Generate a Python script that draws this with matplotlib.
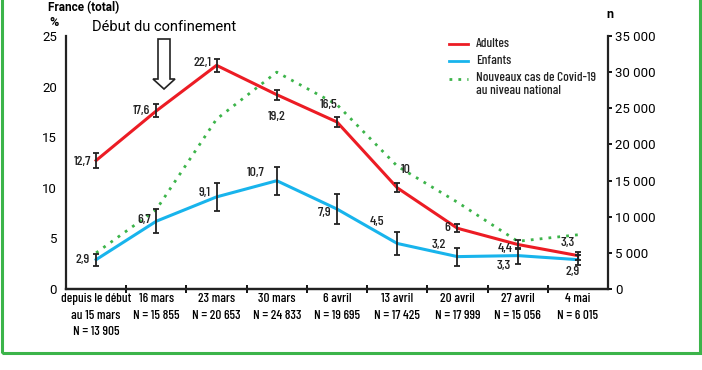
import matplotlib
matplotlib.use("Agg")
import matplotlib.pyplot as plt
from matplotlib.patches import Rectangle, FancyArrow
import numpy as np

# data
weeks = ["depuis le début\nau 15 mars\nN = 13 905", "16 mars\nN = 15 855", "23 mars\nN = 20 653",
         "30 mars\nN = 24 833", "6 avril\nN = 19 695", "13 avril\nN = 17 425",
         "20 avril\nN = 17 999", "27 avril\nN = 15 056", "4 mai\nN = 6 015"]
adultes = [12.7, 17.6, 22.1, 19.2, 16.5, 10, 6, 4.4, 3.3]
adultes_err = [0.7, 0.65, 0.65, 0.5, 0.5, 0.45, 0.4, 0.4, 0.4]
enfants = [2.9, 6.7, 9.1, 10.7, 7.9, 4.5, 3.2, 3.3, 2.9]
enfants_err = [0.6, 1.2, 1.35, 1.4, 1.5, 1.1, 0.9, 0.8, 0.5]
cas = [5000, 11000, 23500, 30000, 25500, 17000, 12000, 6600, 7500]

adultes_lbl = ["12,7", "17,6", "22,1", "19,2", "16,5", "10", "6", "4,4", "3,3"]
enfants_lbl = ["2,9", "6,7", "9,1", "10,7", "7,9", "4,5", "3,2", "3,3", "2,9"]

# label offsets in pixels (dx, dy, ha)
adultes_off = [(-5, -2, "right"), (-6, 0, "right"), (-5, 2, "right"), (0, -22, "center"),
               (-8, 17, "center"), (9, 18, "center"), (-7, 0, "right"), (-5, -5, "right"),
               (-3, 13, "right")]
enfants_off = [(-6, 0, "right"), (-5, 1, "right"), (-6, 4, "right"), (-12, 8, "right"),
               (-6, -4, "right"), (-13, 21, "right"), (-11, 12, "right"), (-7, -10, "right"),
               (-5, -12, "center")]

RED = "#ec1c24"
BLUE = "#18b4ec"
GREEN = "#3cb44a"
cond = ["Barlow Condensed", "Roboto Condensed", "DejaVu Sans"]
num = ["Roboto", "DejaVu Sans"]

fig = plt.figure(figsize=(7.02, 3.70), dpi=100)
ax = fig.add_axes([66/702, 1-289/370, (608-66)/702, (289-36)/370])
ax2 = ax.twinx()

x = np.arange(len(weeks))
ax2.plot(x, cas, color=GREEN, lw=2, ls=(0, (1, 2.2)), zorder=1)
ax.plot(x, adultes, color=RED, lw=2.2, zorder=3)
ax.plot(x, enfants, color=BLUE, lw=2.2, zorder=3)
ax.errorbar(x, adultes, yerr=adultes_err, fmt="none", ecolor="#222222", elinewidth=1.3, capsize=2.5, capthick=1.3, zorder=4)
ax.errorbar(x, enfants, yerr=enfants_err, fmt="none", ecolor="#222222", elinewidth=1.3, capsize=2.5, capthick=1.3, zorder=4)

for i in range(len(x)):
    dx, dy, ha = adultes_off[i]
    ax.annotate(adultes_lbl[i], (x[i], adultes[i]), xytext=(dx, dy), textcoords="offset pixels",
                ha=ha, va="center", fontsize=10, fontweight="medium", family=cond, color="#222222")
    dx, dy, ha = enfants_off[i]
    ax.annotate(enfants_lbl[i], (x[i], enfants[i]), xytext=(dx, dy), textcoords="offset pixels",
                ha=ha, va="center", fontsize=10, fontweight="medium", family=cond, color="#222222")

ax.set_zorder(ax2.get_zorder() + 1)
ax.patch.set_visible(False)

ax.set_xlim(-0.5, 8.5)
ax.set_ylim(0, 25)
ax2.set_ylim(0, 35000)
ax.set_yticks([0, 5, 10, 15, 20, 25])
ax2.set_yticks(range(0, 35001, 5000))
ax2.set_yticklabels(["0"] + ["%d 000" % (v // 1000) for v in range(5000, 35001, 5000)])

ax.set_xticks(np.arange(0.5, 8.5, 1))
ax.set_xticklabels([])
ax.tick_params(axis="x", direction="inout", length=6, width=1.3)
ax.set_xticks(x, minor=True)
ax.set_xticklabels(weeks, minor=True, family=cond, fontsize=9.5, fontweight="medium", linespacing=1.5)
ax.tick_params(axis="x", which="minor", length=0, pad=3)

ax.tick_params(axis="y", length=0, pad=6.5, labelsize=9.5)
for t in ax.get_yticklabels():
    t.set_family(num)
ax2.tick_params(axis="y", direction="out", length=3, width=1.3, pad=2, labelsize=9.5)
for t in ax2.get_yticklabels():
    t.set_family(num)

for a in (ax, ax2):
    a.spines["top"].set_visible(False)
    for s in ("left", "right", "bottom"):
        a.spines[s].set_linewidth(1.6)
        a.spines[s].set_color("#222222")
ax.spines["right"].set_visible(False)
ax2.spines["left"].set_visible(False)

# titles
fig.text(48/702, 1-1/370, "France (total)", fontsize=8.5, fontweight="bold", family=num, va="top")
fig.text(54/702, 1-22/370, "%", fontsize=9, fontweight="bold", family=num, va="center", ha="center")
fig.text(610/702, 1-14/370, "n", fontsize=9, fontweight="bold", family=num, va="center", ha="center")
fig.text(164/702, 1-27/370, "Début du confinement", fontsize=10.5, family=num, va="center", ha="center")

# hollow arrow
arr = FancyArrow(164/702, 1-39/370, 0, -(50/370), width=12/702, head_width=22/702, head_length=10/370,
                 length_includes_head=True, transform=fig.transFigure, facecolor="white",
                 edgecolor="#222222", lw=1.2)
fig.patches.append(arr)

# legend
leg_items = [("Adultes", RED, "-"), ("Enfants", BLUE, "-"),
             ("Nouveaux cas de Covid-19\nau niveau national", GREEN, (0, (1, 2.2)))]
ly = [44, 61, 79]
for (lab, col, ls), yy in zip(leg_items, ly):
    yf = 1 - yy/370
    fig.add_artist(plt.Line2D([449/702, 468/702], [yf, yf], color=col, lw=2, ls=ls, transform=fig.transFigure))
    fig.text(476/702, yf, lab, fontsize=9.5, fontweight="medium", family=cond,
             va="top" if "\n" in lab else "center", linespacing=1.15, color="#222222")
fig.texts[-1].set_position((476/702, 1 - 72/370))

# green frame
fig.patches.append(Rectangle((2/702, 1-353/370), 698/702, 353/370 + 0.05, transform=fig.transFigure,
                             fill=False, edgecolor=GREEN, lw=2.2))

fig.savefig("out.png", dpi=100)
